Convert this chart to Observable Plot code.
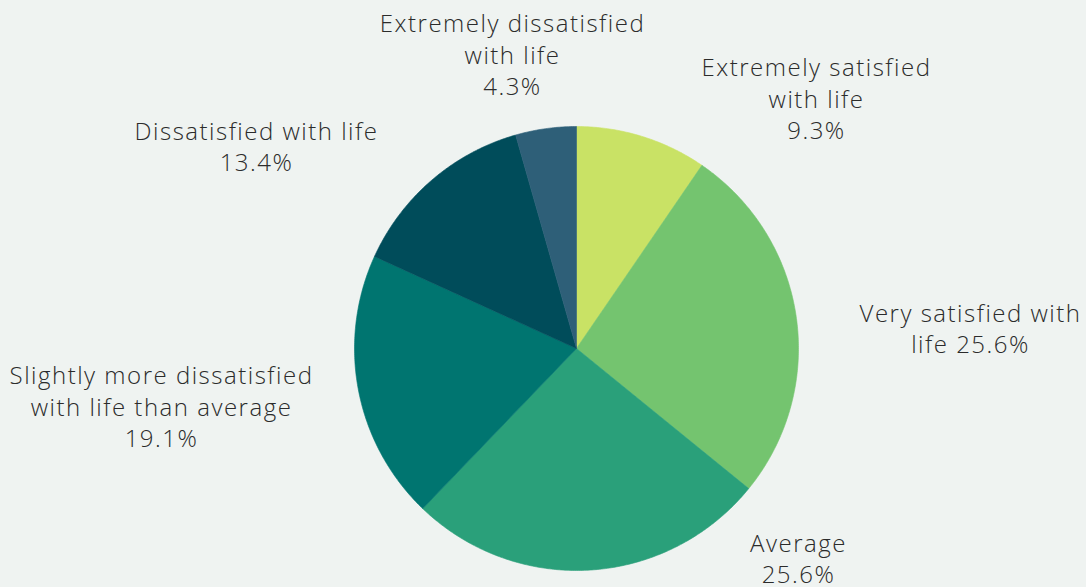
<!DOCTYPE html>
<html>
<head>
<meta charset="utf-8">
<script src="https://cdn.jsdelivr.net/npm/d3@7"></script>
<script src="https://cdn.jsdelivr.net/npm/@observablehq/plot@0.6"></script>
<style>
  html, body { margin: 0; padding: 0; background: #eff3f1; }
  #chart svg { display: block; }
</style>
</head>
<body>
<div id="chart"></div>
<script>
// ---- data ----
const categories = [
  "Extremely satisfied with life",
  "Very satisfied with life",
  "Average",
  "Slightly more dissatisfied with life than average",
  "Dissatisfied with life",
  "Extremely dissatisfied with life"
];
const values = [9.3, 25.6, 25.6, 19.1, 13.4, 4.3];
const labelTexts = [
  "Extremely satisfied\nwith life\n9.3%",
  "Very satisfied with\nlife 25.6%",
  "Average\n25.6%",
  "Slightly more dissatisfied\nwith life than average\n19.1%",
  "Dissatisfied with life\n13.4%",
  "Extremely dissatisfied\nwith life\n4.3%"
];
const colors = ["#c9e265", "#74c46f", "#2aa07a", "#007570", "#004c5a", "#2e5f78"];

// ---- layout ----
const W = 1086, H = 587;
const cx = 576, cy = 348, R = 222;
const labelPos = [
  [816, 97], [970, 327], [798, 557], [161, 405], [256, 145], [512, 53]
];

const pie = d3.pie().sort(null).value(d => d.value)(
  categories.map((c, i) => ({category: c, value: values[i]}))
);

const slicePts = [];
pie.forEach(a => {
  const cat = a.data.category;
  slicePts.push({category: cat, x: cx, y: cy});
  const n = Math.max(2, Math.ceil((a.endAngle - a.startAngle) / (Math.PI / 360)));
  for (let k = 0; k <= n; k++) {
    const t = a.startAngle + (a.endAngle - a.startAngle) * k / n;
    slicePts.push({category: cat, x: cx + R * Math.sin(t), y: cy - R * Math.cos(t)});
  }
  slicePts.push({category: cat, x: cx, y: cy});
});

const labels = categories.map((c, i) => ({
  category: c, text: labelTexts[i], x: labelPos[i][0], y: labelPos[i][1]
}));

const chart = Plot.plot({
  width: W,
  height: H,
  margin: 0,
  style: {background: "#eff3f1", fontFamily: "'Open Sans', sans-serif", letterSpacing: "1.5px"},
  x: {domain: [0, W], range: [0, W], axis: null},
  y: {domain: [0, H], range: [0, H], axis: null},
  color: {domain: categories, range: colors},
  marks: [
    Plot.line(slicePts, {
      x: "x", y: "y", z: "category",
      fill: "category", stroke: "category", strokeWidth: 0.6,
      curve: "linear"
    }),
    Plot.text(labels, {
      x: "x", y: "y", text: "text",
      fontSize: 24, fontWeight: 300, lineHeight: 1.31,
      fill: "#2b2b2b", textAnchor: "middle", lineAnchor: "middle"
    })
  ]
});
document.getElementById("chart").appendChild(chart);
</script>
</body>
</html>
